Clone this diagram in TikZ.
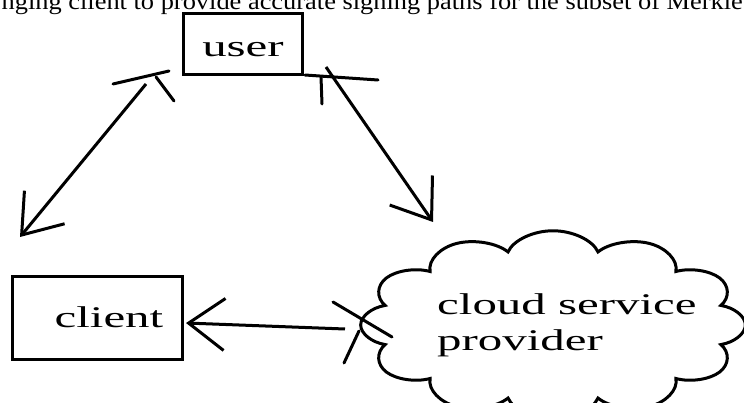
\documentclass[tikz,border=0pt]{standalone}
\usepackage{fontspec}
\setmainfont{Liberation Serif}
\usetikzlibrary{shapes.symbols,arrows.meta}
\tikzset{box/.style={draw, xscale=1.63, inner sep=0pt, font=\fontsize{30}{36}\selectfont},
         puff/.style={cloud, draw, cloud puffs=12, aspect=1.33, xscale=1.63,
                      inner xsep=-16pt, inner ysep=-22pt,
                      align=left, font=\fontsize{30}{36}\selectfont},
         link/.style={-{Straight Barb[length=36pt,width=52pt]}},
         scrap/.style={line cap=round}}

\begin{document}
\begin{tikzpicture}[x=1pt,y=-1pt,line width=3pt]
   \useasboundingbox (0,0) rectangle (744,403);
   \clip (0,0) rectangle (744,403);
   % cut-off line of running text
   \node[anchor=base west, inner sep=0pt, xscale=1.1, font=\fontsize{24}{28}\selectfont]
        (topline) at (0,10) {nging client to provide accurate signing paths for the subset of Merkle};
   % boxes and cloud
   \node[box, minimum width=73.6pt, minimum height=61pt, text height=25pt, text depth=0pt]
        (user) at (243,44.5) {user};
   \node[box, minimum width=104.9pt, minimum height=82pt, text height=18pt, text depth=0pt]
        (client) at (97.5,318) {\hspace*{14pt}client};
   \node[puff, minimum width=236pt, minimum height=175pt]
        (csp) at (553,325) {\hspace*{17pt}cloud service\\\hspace*{17pt}provider};
   % ends of the arrows
   \coordinate (u1) at (146,84);  \coordinate (c1) at ( 20,237);
   \coordinate (u2) at (326,67);  \coordinate (s2) at (433,222);
   \coordinate (s3) at (345,329); \coordinate (c3) at (186,323);
   \draw[link] (u1) -- (c1);
   \draw[link] (u2) -- (s2);
   \draw[link] (s3) -- (c3);
   % broken heads at the other ends
   \draw[scrap] (113,84) -- (169,71);
   \draw[scrap] (156,77) -- (174,101);
   \draw[scrap] (305,75) -- (378,80);
   \draw[scrap] (321,77) -- (322,104);
   \draw[scrap] (333,302) -- (392,337);
   \draw[scrap] (344,363) -- (359,331);
\end{tikzpicture}
\end{document}
